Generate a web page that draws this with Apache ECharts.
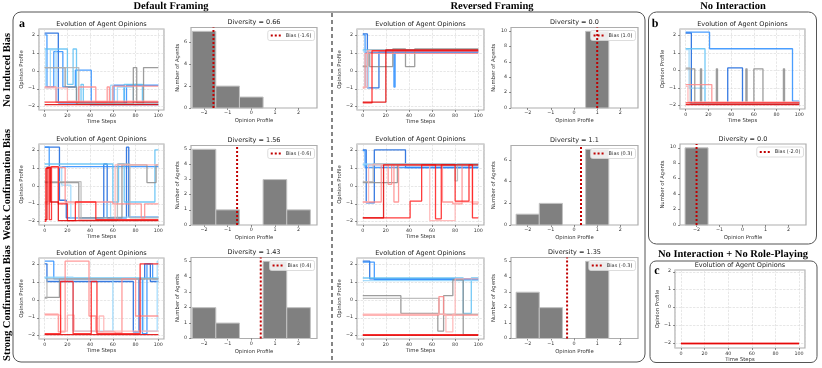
<!DOCTYPE html>
<html><head><meta charset="utf-8">
<script src="https://cdn.jsdelivr.net/npm/echarts@6/dist/echarts.min.js"></script>
<style>html,body{margin:0;padding:0;background:#fff}#c{width:822px;height:368px;will-change:transform}#c svg text{text-rendering:geometricPrecision}</style>
</head><body><div id="c"></div>
<script>
// ---------------- DATA ----------------
const binEdges = [-2.5, -1.5, -0.5, 0.5, 1.5, 2.5];
const rowLabels = ['No Induced Bias', 'Weak Confirmation Bias', 'Strong Confirmation Bias'];
const headers = ['Default Framing', 'Reversed Framing', 'No Interaction', 'No Interaction + No Role-Playing'];
const lineTitle = 'Evolution of Agent Opinions';

// histogram counts per bin (-2,-1,0,1,2)
const histDefNone = [7, 2, 1, 0, 0];
const histDefWeak = [5, 1, 0, 3, 1];
const histDefStrong = [2, 1, 0, 5, 2];
const histRevNone = [0, 0, 0, 10, 0];
const histRevWeak = [1, 2, 0, 7, 0];
const histRevStrong = [3, 2, 0, 5, 0];
const histNoInter = [10, 0, 0, 0, 0];

const biasValues = { defNone: -1.6, defWeak: -0.6, defStrong: 0.4, revNone: 1.0, revWeak: 0.3, revStrong: -0.3, noInter: -2.0 };
const diversity = { defNone: '0.66', defWeak: '1.56', defStrong: '1.43', revNone: '0.0', revWeak: '1.1', revStrong: '1.35', noInter: '0.0' };

// agent opinion change points [timeStep, opinion]; order: 2 agents starting ~2, ~1, ~0, ~-1, ~-2
const agentsDefNone = [
  [[0,2.15],[12,-1.8],[40,-1.9],[100,-1.9]],
  [[0,2.05],[2,-0.9],[8,1.1],[16,-0.9],[27,0.05],[41,-1.85],[61,-0.8],[70,-1.8],[72,-0.8],[100,-0.8]],
  [[0,1.25],[20,-0.75],[25,1.25],[28,-1.8],[32,-0.75],[34,-1.8],[70,-0.75],[86,-1.8],[100,-1.8]],
  [[0,1.2],[1,-0.95],[5,1.2],[10,-1.75],[58,-0.8],[60,-1.75],[64,-0.9],[78,-1.75],[100,-1.75]],
  [[0,0.2],[18,-0.9],[28,-1.85],[78,0.2],[81,-1.8],[87,0.2],[100,0.2]],
  [[0,0.2],[30,-1.85],[100,-1.85]],
  [[0,-0.9],[10,-1.75],[30,-0.9],[45,-1.75],[55,-0.9],[57,-1.75],[60,-0.85],[100,-0.85]],
  [[0,-0.95],[20,-1.7],[100,-1.7]],
  [[0,-1.75],[100,-1.75]],
  [[0,-1.9],[100,-1.9]]
];
const agentsDefWeak = [
  [[0,2.2],[13,-0.8],[19,-1.8],[52,1.25],[55,-1.8],[72,2.2],[74,-1.75],[100,-1.75]],
  [[0,2.2],[4,1.1],[100,1.1]],
  [[0,1.25],[60,-0.9],[65,1.25],[70,-0.9],[97,2.05],[100,2.05]],
  [[0,1.1],[15,0.05],[23,-1.8],[55,-0.9],[58,-1.75],[100,-1.75]],
  [[0,0.2],[30,-1.8],[68,1.2],[90,0.2],[98,1.2],[100,1.2]],
  [[0,0.25],[32,-1.95],[64,1.25],[75,-1.8],[100,-1.8]],
  [[0,-0.9],[3,1.05],[18,-0.9],[60,-1.0],[85,-1.8],[88,-1.0],[100,-1.0]],
  [[0,-1.0],[4,1.1],[12,-0.95],[30,-1.9],[62,1.2],[100,1.2]],
  [[0,-2.0],[1,1.0],[4,-1.9],[6,1.1],[12,-1.0],[20,-1.95],[27,-0.9],[45,-1.9],[100,-1.9]],
  [[0,-1.9],[2,1.05],[5,-0.9],[12,-1.95],[100,-1.95]]
];
const agentsDefStrong = [
  [[0,2.05],[2,1.05],[78,-1.8],[83,1.2],[88,2.05],[93,1.05],[100,1.05]],
  [[0,2.2],[8,1.2],[86,-1.9],[90,2.05],[95,1.2],[100,1.2]],
  [[0,1.25],[100,1.25]],
  [[0,1.3],[25,-1.75],[60,1.2],[87,-1.75],[99,2.2],[100,2.2]],
  [[0,0.15],[13,1.2],[100,1.2]],
  [[0,0.1],[2,1.2],[100,1.2]],
  [[0,-0.8],[12,-1.8],[18,2.2],[39,-0.9],[45,-1.8],[62,-1.85],[68,1.2],[80,-0.9],[100,-0.9]],
  [[0,-0.85],[14,-1.75],[20,-0.85],[26,-1.75],[48,-0.9],[52,-1.75],[100,-1.75]],
  [[0,-1.9],[14,1.05],[25,-1.9],[41,1.05],[46,-1.9],[84,2.05],[100,2.05]],
  [[0,-1.95],[100,-1.95]]
];
const agentsRevNone = [
  [[0,2.1],[4,-0.95],[14,1.1],[100,1.1]],
  [[0,2.05],[2,1.05],[27,-0.9],[28,1.05],[100,1.05]],
  [[0,1.2],[100,1.2]],
  [[0,1.15],[2,-0.9],[5,1.15],[100,1.15]],
  [[0,0.25],[4,1.0],[6,0.25],[26,1.25],[37,0.25],[45,1.25],[100,1.25]],
  [[0,0.3],[5,1.2],[100,1.2]],
  [[0,-0.95],[2,1.0],[100,1.0]],
  [[0,-0.9],[4,1.15],[100,1.15]],
  [[0,-1.8],[8,1.15],[100,1.15]],
  [[0,-1.75],[20,1.2],[100,1.2]]
];
const agentsRevWeak = [
  [[0,2.05],[3,-0.95],[10,2.05],[37,1.05],[100,1.05]],
  [[0,2.0],[2,1.05],[100,1.05]],
  [[0,1.2],[100,1.2]],
  [[0,1.25],[100,1.25]],
  [[0,0.2],[30,1.2],[100,1.2]],
  [[0,0.25],[9,1.25],[80,0.3],[82,1.25],[100,1.25]],
  [[0,-0.9],[16,1.2],[22,0.1],[25,1.2],[27,-0.9],[31,1.2],[69,-0.9],[78,-1.0],[86,1.2],[95,-1.0],[100,-1.0]],
  [[0,-0.9],[5,1.2],[58,-1.95],[80,-0.9],[100,-0.95]],
  [[0,-1.8],[41,-0.85],[51,1.2],[63,-1.85],[68,1.2],[80,-0.85],[92,1.2],[95,-1.8],[100,-1.8]],
  [[0,-1.8],[18,1.2],[100,1.2]]
];
const agentsRevStrong = [
  [[0,2.2],[6,1.2],[100,1.2]],
  [[0,2.15],[10,1.15],[100,1.15]],
  [[0,1.25],[87,-0.75],[94,1.25],[100,1.25]],
  [[0,1.1],[100,1.1]],
  [[0,0.25],[33,-0.75],[65,-1.75],[70,0.25],[78,1.15],[87,-1.95],[100,-1.95]],
  [[0,0.1],[66,-0.8],[100,-0.8]],
  [[0,-0.85],[66,0.2],[70,-0.85],[100,-0.85]],
  [[0,-0.8],[72,-1.8],[78,-0.8],[80,1.2],[100,1.2]],
  [[0,-1.95],[100,-1.95]],
  [[0,-2.0],[100,-2.0]]
];
const agentsNoInter = [
  [[0,2.15],[5,-1.9],[37,0.15],[50,-1.9],[100,-1.9]],
  [[0,2.2],[21,1.25],[94,-1.75],[100,-1.75]],
  [[0,1.25],[17,-1.9],[100,-1.9]],
  [[0,1.2],[3,-1.0],[17,-1.85],[100,-1.85]],
  [[0,0.1],[8,-1.85],[13,0.1],[14,-1.85],[27,0.1],[28,-1.85],[53,0.1],[54,-1.85],[60,0.1],[68,-1.85],[86,0.1],[87,-1.85],[100,-1.85]],
  [[0,0.15],[4,-1.9],[100,-1.9]],
  [[0,-0.8],[23,-1.85],[100,-1.85]],
  [[0,-0.9],[2,-1.8],[100,-1.8]],
  [[0,-1.85],[100,-1.85]],
  [[0,-1.95],[100,-1.95]]
];
// no interaction + no role-playing: all ten agents sit at -2 (drawn as the red group)
const agentsNoRole = [
  [[0,-2.0],[100,-2.0]],
  [[0,-2.0],[100,-2.0]]
];

// ---------------- BUILD ----------------
const agentColors = ['#1463dc','#2a8dff','#5cc0f4','#97d6fb','#8c8c8c','#b4b4b4','#ff8a8a','#ffb0b0','#ff1a1a','#e00000'];
const FONT = 'DejaVu Sans';
const grids = [], xAxes = [], yAxes = [], series = [], titles = [], legends = [];
const minus = v => String(v).replace('-', '\u2212');

function baseAxis(gi) {
  return {
    gridIndex: gi, type: 'value',
    axisLine: { show: false, onZero: false },
    axisTick: { show: true, length: 2, lineStyle: { color: '#444', width: 0.6 } },
    axisLabel: { fontSize: 4.8, color: '#333', fontFamily: FONT, formatter: minus },
    nameLocation: 'middle',
    nameTextStyle: { fontSize: 5.3, color: '#333', fontFamily: FONT }
  };
}

function addGrid(box) {
  grids.push({ left: box.left, top: box.top, width: box.width, height: box.height, show: true,
    borderColor: '#adadad', borderWidth: 1.2, backgroundColor: 'transparent' });
  return grids.length - 1;
}

function addTitle(text, cx, top) {
  titles.push({ text, left: cx, top, textAlign: 'center', padding: 0, z: 20,
    textStyle: { fontSize: 6.5, fontWeight: 'normal', color: '#222', fontFamily: FONT } });
}

function addLine(box, agents, yRange, yNameGap, colorOffset) {
  const gi = addGrid(box);
  const x = baseAxis(gi);
  Object.assign(x, { min: -5, max: 105, name: 'Time Steps', nameGap: 9.5,
    splitLine: { show: true, lineStyle: { color: '#d6d6d6', type: 'dashed', width: 0.6 } } });
  x.axisLabel = Object.assign({}, x.axisLabel, { margin: 3.5, showMinLabel: false, showMaxLabel: false });
  const y = baseAxis(gi);
  Object.assign(y, { min: yRange[0], max: yRange[1], name: 'Opinion Profile', nameGap: yNameGap,
    splitLine: { show: true, lineStyle: { color: '#d6d6d6', type: 'dashed', width: 0.6 } } });
  y.axisLabel = Object.assign({}, y.axisLabel, { margin: 4, showMinLabel: false, showMaxLabel: false });
  xAxes.push(x); yAxes.push(y);
  agents.forEach((pts, k) => {
    series.push({ type: 'line', xAxisIndex: gi, yAxisIndex: gi, data: pts, step: 'end', symbol: 'none',
      silent: true, lineStyle: { color: agentColors[k + colorOffset], width: 1.3, opacity: 0.85 }, z: 2 });
  });
  addTitle(lineTitle, box.left + box.width / 2, box.top - 9);
}

function addHist(box, counts, bias, div, xRange, yMax, yInt, yNameGap) {
  const gi = addGrid(box);
  const x = baseAxis(gi);
  Object.assign(x, { min: xRange[0], max: xRange[1], name: 'Opinion Profile', nameGap: 10.5, splitLine: { show: false } });
  x.axisLabel = Object.assign({}, x.axisLabel, { margin: 3, showMinLabel: false, showMaxLabel: false });
  const y = baseAxis(gi);
  Object.assign(y, { min: 0, max: yMax, interval: yInt, name: 'Number of Agents', nameGap: yNameGap, splitLine: { show: false } });
  y.axisLabel = Object.assign({}, y.axisLabel, { margin: 4, showMaxLabel: false });
  xAxes.push(x); yAxes.push(y);
  const data = counts.map((c, k) => [binEdges[k], binEdges[k + 1], c]).filter(d => d[2] > 0);
  series.push({ type: 'custom', xAxisIndex: gi, yAxisIndex: gi, data, silent: true, z: 2,
    encode: { x: [0, 1], y: 2 },
    renderItem: (params, api) => {
      const p0 = api.coord([api.value(0), api.value(2)]);
      const p1 = api.coord([api.value(1), 0]);
      return { type: 'rect', shape: { x: p0[0], y: p0[1], width: p1[0] - p0[0], height: p1[1] - p0[1] },
        style: { fill: '#808080', stroke: '#c2c2c2', lineWidth: 1 } };
    } });
  const name = 'Bias (' + bias.toFixed(1) + ')';
  series.push({ type: 'line', name, xAxisIndex: gi, yAxisIndex: gi, data: [[bias, 0], [bias, yMax]],
    symbol: 'none', silent: true, z: 5,
    lineStyle: { color: '#c00000', width: 2, type: 'dotted' }, itemStyle: { color: '#c00000' } });
  legends.push({ data: [name], right: 822 - (box.left + box.width - 2.5), top: box.top + 3,
    icon: 'path://M0,0h2v2h-2z M4,0h2v2h-2z M8,0h2v2h-2z',
    itemWidth: 10, itemHeight: 2, itemGap: 2, padding: [2.5, 3, 2.5, 3],
    backgroundColor: 'rgba(255,255,255,0.85)', borderColor: '#d4d4d4', borderWidth: 0.8, borderRadius: 2,
    textStyle: { fontSize: 5, color: '#333', fontFamily: FONT } });
  addTitle('Diversity = ' + div, box.left + box.width / 2, box.top - 9);
}

const lineRows = [{ top: 29, height: 81 }, { top: 144, height: 81 }, { top: 258, height: 81 }];
const histRows = [{ top: 27.5, height: 80.5 }, { top: 145.5, height: 79.5 }, { top: 257.5, height: 81 }];
const yLine = [-2.2, 2.38];
const defX = [-2.55, 2.78], revX = [-2.72, 2.76];

const defAgents = [agentsDefNone, agentsDefWeak, agentsDefStrong];
const revAgents = [agentsRevNone, agentsRevWeak, agentsRevStrong];
const defHists = [histDefNone, histDefWeak, histDefStrong];
const revHists = [histRevNone, histRevWeak, histRevStrong];
const defKeys = ['defNone', 'defWeak', 'defStrong'];
const revKeys = ['revNone', 'revWeak', 'revStrong'];
const defY = [[7.35, 2], [5.25, 1], [5.25, 1]];
const revY = [[10.5, 2], [7.35, 2], [5.25, 1]];

for (let r = 0; r < 3; r++) {
  addLine({ left: 39, width: 125, top: lineRows[r].top, height: lineRows[r].height }, defAgents[r], yLine, 14.5, 0);
  addHist({ left: 191, width: 126, top: histRows[r].top, height: histRows[r].height }, defHists[r],
    biasValues[defKeys[r]], diversity[defKeys[r]], defX, defY[r][0], defY[r][1], 8.5);
  addLine({ left: 357, width: 127, top: lineRows[r].top, height: lineRows[r].height }, revAgents[r], yLine, 12.5, 0);
  addHist({ left: 511, width: 127, top: histRows[r].top, height: histRows[r].height }, revHists[r],
    biasValues[revKeys[r]], diversity[revKeys[r]], revX, revY[r][0], revY[r][1], 14.5);
}
addLine({ left: 680, width: 125, top: 29, height: 80 }, agentsNoInter, yLine, 15, 0);
addHist({ left: 680, width: 126, top: 144, height: 81 }, histNoInter, biasValues.noInter, diversity.noInter, revX, 10.5, 2, 14.5);
addLine({ left: 675, width: 130, top: 270, height: 78 }, agentsNoRole, [-2.25, 2.1], 15, 8);

// headers
const hdr = (text, cx, top) => titles.push({ text, left: cx, top, textAlign: 'center', padding: 0,
  textStyle: { fontSize: 10.5, fontWeight: 'bold', color: '#000', fontFamily: 'Liberation Serif' } });
hdr(headers[0], 171, 0.5);
hdr(headers[1], 492, 0.5);
hdr(headers[2], 733, 0.5);
hdr(headers[3], 733, 248.5);

const serifBold = 'bold 10.5px "Liberation Serif"';
const graphic = [
  { type: 'rect', shape: { x: 13, y: 12, width: 632, height: 350, r: 8 }, style: { fill: 'none', stroke: '#555', lineWidth: 1 }, silent: true },
  { type: 'rect', shape: { x: 648.5, y: 12, width: 168, height: 232, r: 8 }, style: { fill: 'none', stroke: '#555', lineWidth: 1 }, silent: true },
  { type: 'rect', shape: { x: 650, y: 261, width: 167, height: 101.5, r: 6 }, style: { fill: 'none', stroke: '#555', lineWidth: 1 }, silent: true },
  { type: 'line', shape: { x1: 332, y1: 13, x2: 332, y2: 361 }, style: { stroke: '#222', lineWidth: 1.1, lineDash: [4, 3] }, silent: true },
  { type: 'text', x: 22, y: 23, style: { text: 'a', font: 'bold 12px "Liberation Serif"', fill: '#000', align: 'center', verticalAlign: 'middle' } },
  { type: 'text', x: 655, y: 23, style: { text: 'b', font: 'bold 12px "Liberation Serif"', fill: '#000', align: 'center', verticalAlign: 'middle' } },
  { type: 'text', x: 657, y: 270, style: { text: 'c', font: 'bold 12px "Liberation Serif"', fill: '#000', align: 'center', verticalAlign: 'middle' } }
];
[70, 184.5, 303].forEach((cy, i) => {
  graphic.push({ type: 'text', x: 7.5, y: cy, rotation: Math.PI / 2,
    style: { text: rowLabels[i], font: serifBold, fill: '#000', align: 'center', verticalAlign: 'middle' } });
});

const chart = echarts.init(document.getElementById('c'), null, { renderer: 'svg' });
chart.setOption({
  animation: false,
  textStyle: { fontFamily: FONT },
  title: titles, grid: grids, xAxis: xAxes, yAxis: yAxes, series, legend: legends, graphic
});
</script></body></html>
